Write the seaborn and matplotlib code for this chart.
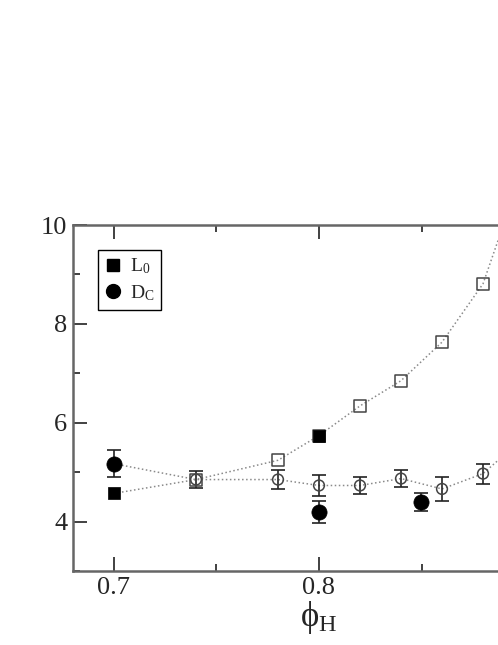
import matplotlib
matplotlib.use("Agg")
import matplotlib.pyplot as plt
from matplotlib.lines import Line2D
from matplotlib.ticker import MultipleLocator
import seaborn as sns
import numpy as np

# ---- data ----
phi_line = [0.70, 0.74, 0.78, 0.80, 0.82, 0.84, 0.86, 0.88, 0.90]
L0_line = [4.57, 4.85, 5.24, 5.74, 6.34, 6.85, 7.63, 8.81, 11.2]
Dc_line = [5.17, 4.85, 4.85, 4.73, 4.73, 4.87, 4.66, 4.97, 5.7]

phi_open = [0.74, 0.78, 0.80, 0.82, 0.84, 0.86, 0.88, 0.90]
L0_open = [4.85, 5.24, 5.74, 6.34, 6.85, 7.63, 8.81, 11.2]
Dc_open = [4.85, 4.85, 4.73, 4.73, 4.87, 4.66, 4.97, 5.7]
Dc_open_err = [0.18, 0.20, 0.22, 0.17, 0.175, 0.235, 0.20, 0.2]

phi_L0_filled = [0.70, 0.80]
L0_filled = [4.57, 5.74]
phi_Dc_filled = [0.70, 0.80, 0.85]
Dc_filled = [5.17, 4.19, 4.39]
Dc_filled_err = [0.27, 0.22, 0.185]

xticks = [0.7, 0.8]
xticklabels = ["0.7", "0.8"]
yticks = [4, 6, 8, 10]
yticklabels = ["4", "6", "8", "10"]

sns.set_theme(style="ticks")
plt.rcParams["font.family"] = ["Liberation Serif", "DejaVu Serif"]
plt.rcParams["mathtext.fontset"] = "custom"
plt.rcParams["mathtext.rm"] = "Liberation Serif"
plt.rcParams["mathtext.it"] = "Liberation Serif:italic"
plt.rcParams["mathtext.bf"] = "Liberation Serif:bold"

fig = plt.figure(figsize=(4.98, 6.45), dpi=100)
ax = fig.add_axes([73/498, 74/645, 492/498, 346/645])

spine_col = "#666666"
line_col = "#8a8a8a"

# dotted connecting lines
sns.lineplot(x=phi_line, y=L0_line, ax=ax, color=line_col, linestyle=":", lw=1.1, sort=False, zorder=1)
sns.lineplot(x=phi_line, y=Dc_line, ax=ax, color=line_col, linestyle=":", lw=1.1, sort=False, zorder=1)

# error bars
ax.errorbar(phi_open, Dc_open, yerr=Dc_open_err, fmt="none", ecolor="#222222",
            elinewidth=1.2, capsize=5, capthick=1.2, zorder=2)
ax.errorbar(phi_Dc_filled, Dc_filled, yerr=Dc_filled_err, fmt="none", ecolor="#222222",
            elinewidth=1.2, capsize=5, capthick=1.2, zorder=2)

# open markers
sns.scatterplot(x=phi_open, y=L0_open, ax=ax, marker="s", s=75, facecolor="none",
                edgecolor="#444444", linewidth=1.1, zorder=3)
sns.scatterplot(x=phi_open, y=Dc_open, ax=ax, marker="o", s=60, facecolor="none",
                edgecolor="#444444", linewidth=1.1, zorder=3)
# filled markers
sns.scatterplot(x=phi_L0_filled, y=L0_filled, ax=ax, marker="s", s=85, color="black",
                edgecolor="black", linewidth=0.5, zorder=4)
sns.scatterplot(x=phi_Dc_filled, y=Dc_filled, ax=ax, marker="o", s=120, color="black",
                edgecolor="black", linewidth=0.5, zorder=4)

ax.set_xlim(0.68, 0.92)
ax.set_ylim(3, 10)
ax.set_xticks(xticks)
ax.set_yticks(yticks)
ax.set_xticklabels(xticklabels)
ax.set_yticklabels(yticklabels)
ax.xaxis.set_minor_locator(MultipleLocator(0.05))
ax.yaxis.set_minor_locator(MultipleLocator(1))

for s in ["left", "bottom", "top"]:
    ax.spines[s].set_color(spine_col)
    ax.spines[s].set_linewidth(1.8)
ax.spines["right"].set_visible(False)

ax.tick_params(axis="both", which="major", direction="in", length=10, width=1.3,
               color="#333333", labelsize=19, top=True)
ax.tick_params(axis="both", which="minor", direction="in", length=5, width=1.3,
               color="#333333", top=True)
ax.tick_params(axis="x", which="major", pad=4)
ax.tick_params(axis="y", which="major", pad=4)

ax.set_xlabel("\u03d5$_\\mathrm{H}$", fontsize=25, labelpad=0)
ax.set_ylabel("")

handles = [
    Line2D([], [], marker="s", color="black", linestyle="none", markersize=8.5),
    Line2D([], [], marker="o", color="black", linestyle="none", markersize=10),
]
leg = ax.legend(handles, ["L$_0$", "D$_\\mathrm{C}$"], loc="upper left",
                bbox_to_anchor=(0.051, 0.928), fontsize=14, frameon=True,
                fancybox=False, edgecolor="black", framealpha=1,
                handlelength=0.8, handletextpad=0.5, borderpad=0.35,
                labelspacing=0.35, borderaxespad=0)
leg.get_frame().set_linewidth(1.0)

fig.savefig("out.png", dpi=100)
